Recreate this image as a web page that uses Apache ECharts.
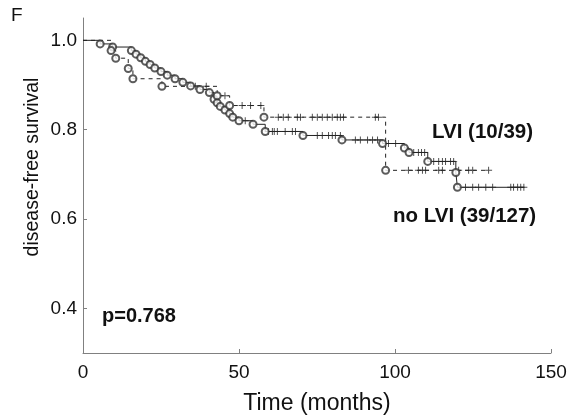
<!DOCTYPE html>
<html><head><meta charset="utf-8">
<script src="https://cdn.jsdelivr.net/npm/echarts@6/dist/echarts.min.js"></script>
<style>html,body{margin:0;padding:0;background:#fff}#c{width:572px;height:420px}</style>
</head><body><div id="c"></div>
<script>
const xTicks = [0, 50, 100, 150];
const yTicks = [0.4, 0.6, 0.8, 1.0];

// no LVI (solid): event times and survival after each event
const noLviEventT = [5.5, 9.5, 15.5, 17, 18.5, 20, 21.5, 23, 25, 27, 29.5, 32, 34.5, 37.5, 40.5, 42, 43, 44, 45.5, 47, 48, 50, 54.5, 58.4, 70.5, 83, 96, 103, 104.5, 110.5, 119.5, 120];
const noLviEventS = [0.992, 0.985, 0.977, 0.969, 0.961, 0.953, 0.946, 0.938, 0.930, 0.922, 0.914, 0.906, 0.898, 0.890, 0.883, 0.868, 0.860, 0.852, 0.844, 0.836, 0.828, 0.820, 0.812, 0.796, 0.787, 0.777, 0.769, 0.759, 0.749, 0.729, 0.704, 0.671];
const noLviEnd = 141.5;
const noLviCensorT = [52, 59.4, 60.7, 61.3, 62.3, 64.8, 67.1, 68.1, 75.1, 76.7, 78.7, 79.9, 80.9, 82.5, 87.3, 88.9, 91.2, 92.8, 94.4, 97.9, 100.2, 106, 107.5, 108.5, 109.5, 112.4, 114, 115.2, 116.2, 117.8, 118.8, 122.6, 124.9, 126.8, 129.1, 131.3, 137.1, 138, 139.3, 140.3, 141.3];

// LVI (dashed)
const lviEventT = [9, 10.5, 14.5, 16, 25.3, 43, 47, 58, 97];
const lviEventS = [0.977, 0.960, 0.937, 0.914, 0.897, 0.876, 0.854, 0.828, 0.709];
const lviEnd = 130;
const lviCensorT = [36, 39.5, 45.5, 51, 53.7, 57, 62.6, 64.2, 65.8, 68.7, 69.7, 73.5, 75.1, 76.7, 78.3, 79.9, 81.5, 82.5, 83.5, 93.7, 94.7, 104.3, 107.5, 108.8, 109.8, 114, 115.2, 120.4, 123.6, 124.9, 130];

function stepData(ts, ss, end) {
  const d = [[0, 1.0]];
  ts.forEach((t, i) => d.push([t, ss[i]]));
  d.push([end, ss[ss.length - 1]]);
  return d;
}
function levelAt(ts, ss, t) {
  let s = 1.0;
  for (let i = 0; i < ts.length; i++) if (ts[i] <= t) s = ss[i];
  return s;
}
const FONT = '"Liberation Sans", Arial, Helvetica, sans-serif';
const plus = 'path://M-0.14,-1H0.14V-0.14H1V0.14H0.14V1H-0.14V0.14H-1V-0.14H-0.14Z';
const INK = '#222';

const chart = echarts.init(document.getElementById('c'), null, {renderer: 'canvas'});
chart.setOption({
  animation: false,
  backgroundColor: '#fff',
  grid: {left: 83, right: 21, top: 18, bottom: 66},
  xAxis: {
    type: 'value', min: 0, max: 150, interval: 50,
    name: 'Time (months)', nameLocation: 'middle', nameGap: 39,
    nameTextStyle: {fontFamily: FONT, fontSize: 23, color: '#111'},
    axisLine: {show: true, lineStyle: {color: '#808080', width: 1}},
    axisTick: {show: true, inside: true, length: 4, lineStyle: {color: '#808080'}},
    axisLabel: {fontFamily: FONT, fontSize: 19, color: '#111', margin: 10,
      customValues: xTicks},
    splitLine: {show: false}
  },
  yAxis: {
    type: 'value', min: 0.3, max: 1.05,
    axisLine: {show: true, lineStyle: {color: '#808080', width: 1}},
    axisTick: {show: true, inside: true, length: 4, lineStyle: {color: '#808080'}, customValues: yTicks},
    axisLabel: {fontFamily: FONT, fontSize: 19, color: '#111', margin: 6,
      customValues: yTicks, formatter: v => v.toFixed(1)},
    splitLine: {show: false}
  },
  graphic: [
    {type: 'text', left: 11, top: 6, style: {text: 'F', font: '19px ' + FONT, fill: '#111'}},
    {type: 'text', x: 33, y: 167, rotation: Math.PI / 2,
     style: {text: 'disease-free survival', font: '19.5px ' + FONT, fill: '#111', textAlign: 'center', textVerticalAlign: 'middle'}},
    {type: 'text', x: 102, y: 316, style: {text: 'p=0.768', font: 'bold 20px ' + FONT, fill: '#111', textVerticalAlign: 'middle'}},
    {type: 'text', x: 432, y: 132, style: {text: 'LVI (10/39)', font: 'bold 20.5px ' + FONT, fill: '#111', textVerticalAlign: 'middle'}},
    {type: 'text', x: 393, y: 216, style: {text: 'no LVI (39/127)', font: 'bold 20.5px ' + FONT, fill: '#111', textVerticalAlign: 'middle'}}
  ],
  series: [
    {type: 'line', name: 'no LVI', step: 'end', data: stepData(noLviEventT, noLviEventS, noLviEnd),
     showSymbol: false, lineStyle: {color: INK, width: 1}, z: 2},
    {type: 'line', name: 'LVI', step: 'end', data: stepData(lviEventT, lviEventS, lviEnd),
     showSymbol: false, lineStyle: {color: INK, width: 1, type: [4, 4]}, z: 2},
    {type: 'scatter', data: noLviCensorT.map(t => [t, levelAt(noLviEventT, noLviEventS, t)]),
     symbol: plus, symbolSize: 7, itemStyle: {color: INK}, z: 3},
    {type: 'scatter', data: lviCensorT.map(t => [t, levelAt(lviEventT, lviEventS, t)]),
     symbol: plus, symbolSize: 7, itemStyle: {color: INK}, z: 3},
    {type: 'scatter', data: noLviEventT.map((t, i) => [t, noLviEventS[i]]),
     symbol: 'emptyCircle', symbolSize: 7, itemStyle: {color: '#333', borderWidth: 0.9}, z: 4},
    {type: 'scatter', data: lviEventT.map((t, i) => [t, lviEventS[i]]),
     symbol: 'emptyCircle', symbolSize: 7, itemStyle: {color: '#333', borderWidth: 0.9}, z: 4}
  ]
});
</script>
</body></html>
